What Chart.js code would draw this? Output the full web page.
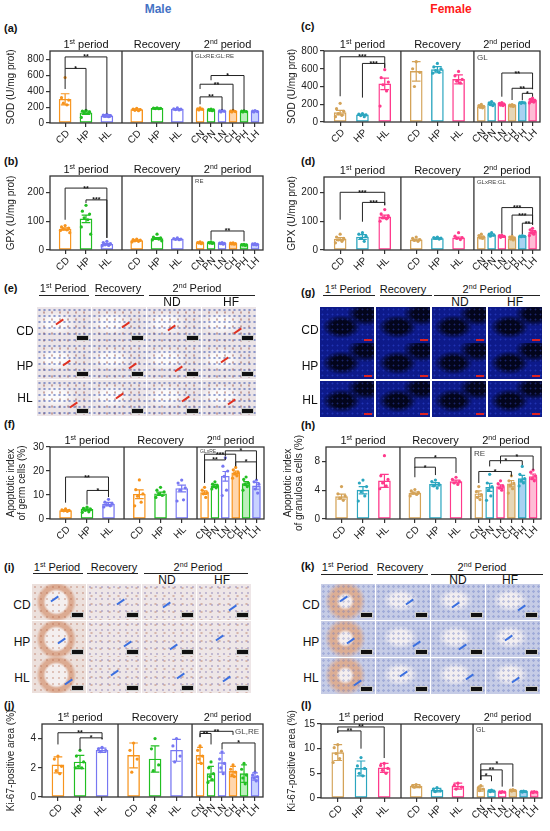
<!DOCTYPE html>
<html>
<head>
<meta charset="utf-8">
<script src="https://cdn.jsdelivr.net/npm/chart.js@4.4.1/dist/chart.umd.min.js"></script>
<style>
body{margin:0;background:#fff;width:550px;height:831px;position:relative;overflow:hidden;font-family:"Liberation Sans",Arial,sans-serif;color:#111}
canvas{position:absolute}
.lbl{position:absolute;font-weight:bold;font-size:11px}
.sex{position:absolute;font-weight:bold;font-size:12px;transform:translateX(-50%)}
.hd{position:absolute;font-size:11px;white-space:nowrap;transform:translate(-50%,-50%)}
.hd sup{font-size:7px}
.ul{position:absolute;height:0;border-top:1.3px solid #222}
.rl{position:absolute;font-size:12px;transform:translate(-50%,-50%)}
.tile{position:absolute;overflow:hidden}
.sb{position:absolute;right:2px;bottom:2px;width:11px;height:4px;background:#111;border:0.5px solid #ccc}
.ifF .sb{background:#d22;border:none;width:8px;height:2px}
.arr{position:absolute;width:9px;height:1.5px;transform:rotate(-35deg)}
.ihcM{background-color:#ebe4e7;background-image:radial-gradient(circle,rgba(60,85,175,.55) 0 0.9px,transparent 1.4px),radial-gradient(circle,rgba(150,80,70,.45) 0 0.9px,transparent 1.4px),radial-gradient(ellipse at 35% 45%,rgba(255,255,255,.85) 0 18%,transparent 42%);background-size:5px 6px,8px 7px,100% 100%;background-position:0 0,3px 2px,0 0}
.ifF{background-color:#0d1a8a;background-image:radial-gradient(circle,rgba(70,100,255,.35) 0 0.7px,transparent 1.2px),radial-gradient(ellipse at 40% 55%,#03051c 0 22%,transparent 42%),radial-gradient(ellipse at 85% 20%,#03051c 0 14%,transparent 30%);background-size:5px 5px,100% 100%,100% 100%}
.kiM{background-color:#eee6e7;background-image:radial-gradient(circle,rgba(110,100,170,.35) 0 1px,transparent 1.5px),radial-gradient(circle,rgba(170,90,60,.35) 0 0.9px,transparent 1.4px);background-size:6px 6px,9px 8px}
.kiM.ring{background-image:radial-gradient(circle,rgba(170,90,60,.3) 0 0.9px,transparent 1.4px),radial-gradient(circle at 45% 50%,#f4efef 0 30%,#dcab92 38% 48%,#ece0dc 58%);background-size:6px 6px,100% 100%}
.kiF{background-color:#c6cce6;background-image:radial-gradient(circle,rgba(90,110,190,.35) 0 1px,transparent 1.5px),radial-gradient(ellipse at 45% 45%,#f2eef0 0 22%,transparent 42%);background-size:5px 5px,100% 100%}
.kiF.ring{background-image:radial-gradient(circle,rgba(90,110,190,.3) 0 1px,transparent 1.5px),radial-gradient(circle at 45% 48%,#f4eeee 0 16%,#dcae95 26% 42%,#c6cce6 58%);background-size:5px 5px,100% 100%}
</style>
</head>
<body>
<div class="sex" style="left:158px;top:2px;color:#4472C4">Male</div>
<div class="sex" style="left:451px;top:2px;color:#ff1a1a">Female</div>
<div class="lbl" style="left:4px;top:22px">(a)</div>
<div class="lbl" style="left:301px;top:20px">(c)</div>
<div class="lbl" style="left:4px;top:155px">(b)</div>
<div class="lbl" style="left:301px;top:155px">(d)</div>
<div class="lbl" style="left:4px;top:282px">(e)</div>
<div class="lbl" style="left:301px;top:286px">(g)</div>
<div class="lbl" style="left:4px;top:418px">(f)</div>
<div class="lbl" style="left:301px;top:419px">(h)</div>
<div class="lbl" style="left:4px;top:561px">(i)</div>
<div class="lbl" style="left:301px;top:560px">(k)</div>
<div class="lbl" style="left:4px;top:699px">(j)</div>
<div class="lbl" style="left:301px;top:699px">(l)</div>
<script>
// categories and section headers
const cats = ['CD','HP','HL','CD','HP','HL','CN','PN','LN','CH','PH','LH'];
const sections = [['1','st',' period'],['Recovery'],['2','nd',' period']];

// tick labels
const sodTicks = [0,200,400,600,800];
const gpxTicks = [0,50,100,150,200,250];
const germTicks = [0,10,20,30];
const granTicks = [0,2,4,6,8,10];
const kiMaleTicks = [0,1,2,3,4,5];
const kiFemaleTicks = [0,5,10,15];

// (a) SOD male
const sodMaleMean = [300,130,90, 170,185,175, 175,165,150,150,145,150];
const sodMaleSem = [70,20,15, 10,4,8, 8,8,8,6,6,6];
const sodMalePts = [[575,320,290,250,230],[160,150,140,130,120,70],[110,100,95,85,80],
  [185,175,170,160,155],[190,188,185,182,180],[190,180,175,170,165],
  [190,180,175,165],[175,170,165,160,155],[160,155,150,140],[160,150,145,140],[155,150,145,140],[158,150,145,140]];
const sodMaleSig = [[0,1,690,430,160,'*'],[0,2,835,690,120,'**'],[6,8,330,236,165,'**'],[6,9,490,430,160,'**'],[7,10,600,540,160,'*']];

// (b) GPX male
const gpxMaleMean = [73,108,20, 33,40,38, 25,25,23,22,18,20];
const gpxMaleSem = [4,13,3, 2,3,2, 1.5,1.5,1.5,1.5,1.5,1.5];
const gpxMalePts = [[85,80,76,73,70,68,60],[155,135,125,112,105,80,55],[30,26,22,18,16,14],
  [38,36,34,32,30,28],[55,45,42,40,38,35,32],[42,40,38,37,36],
  [28,26,25,24,22],[28,26,25,24,23],[26,24,23,22,20],[25,24,22,21,20],[20,19,18,17,16],[22,21,20,19,18]];
const gpxMaleSig = [[0,2,215,105,42,'**'],[1,2,174,163,42,'***'],[7,10,66,35,30,'**']];

// (c) SOD female
const sodFemMean = [105,80,430, 570,590,480, 175,205,200,185,215,240];
const sodFemSem = [25,7,65, 110,35,50, 10,12,12,8,6,15];
const sodFemPts = [[210,150,120,95,75,60],[95,88,80,72,60],[590,500,450,420,350,180],
  [680,600,560,400],[660,620,600,580,560,550],[570,520,480,460,440],
  [200,185,175,165,160],[230,215,205,195,185],[220,210,200,190,185],[195,190,185,180,175],[225,220,215,210],[270,255,245,235,225,215]];
const sodFemSig = [[0,2,735,290,610,'***'],[1,2,660,275,610,'***'],[8,11,552,285,370,'**'],[9,11,380,248,370,'**'],[10,11,323,248,285,'*']];

// (d) GPX female
const gpxFemMean = [38,45,115, 35,40,42, 45,52,47,40,47,62];
const gpxFemSem = [5,8,6, 3,2,3, 3,4,3,3,2,5];
const gpxFemPts = [[55,45,40,35,30,25],[60,55,48,40,30],[140,125,118,112,108,100],
  [45,40,36,33,30],[45,43,41,40,38],[60,48,43,40,36],
  [55,50,45,42,40],[60,55,52,48],[52,50,47,44],[48,45,42,38,35],[50,48,47,46],[75,70,65,60,55,50]];
const gpxFemSig = [[0,2,200,105,155,'***'],[1,2,165,98,155,'***'],[8,11,147,57,88,'***'],[9,11,121,52,88,'***'],[10,11,93,55,88,'**']];

// (f) apoptotic index, germ cells
const germMean = [3.5,4.0,6.2, 10.3,10.5,12.7, 11.0,13.8,17.8,19.2,14.8,13.8];
const germSem = [0.3,0.5,0.7, 1.8,0.7,1.4, 0.7,0.6,2.0,0.8,0.8,1.4];
const germPts = [[4.2,3.8,3.6,3.4,3.2],[5.0,4.4,4.0,3.6,3.0,2.8],[8.2,7.0,6.5,6.0,5.5,5.0],
  [16.3,12.2,10.5,9.5,7.0,5.5],[13.2,12.0,11.3,10.5,9.8,9.0],[16.2,15.0,13.0,12.0,8.0,7.5],
  [13.2,12.0,11.0,10.5,9.0],[15.5,14.5,14.0,13.5,13.0,12.5],[25.5,22,20,17.8,12,9.8],[21.5,20.5,19.5,19,18,17],[17.5,16.5,15,14.5,13.5,12],[16.2,15.5,14.5,12.5,10.8]];
const germSig = [[0,2,17.5,6.8,9.2,'**'],[1,2,11.9,6.0,9.2,'*'],[6,8,24.6,15.1,26,'**'],[6,9,27,15.1,22,'***'],[8,11,28.4,26.2,16.5,'*'],[9,11,23.8,22,16.5,'*']];

// (h) apoptotic index, granulosa cells
const granMean = [3.1,4.0,5.3, 3.6,4.8,5.2, 3.5,4.4,4.5,4.9,5.6,5.9];
const granSem = [0.35,0.5,0.9, 0.15,0.25,0.2, 0.4,0.55,0.25,0.45,0.45,0.35];
const granPts = [[4.5,3.5,3.2,2.9,2.6],[5.4,5.0,4.5,3.8,3.2,2.5],[8.8,6.0,5.5,5.0,4.6,4.2],
  [4.1,3.9,3.7,3.6,3.4,3.2],[5.4,5.2,4.8,4.6,4.3],[5.8,5.5,5.2,5.0,4.8],
  [4.5,3.8,3.4,3.0,2.7],[6.2,5.0,4.5,4.0,3.2,2.6],[5.3,4.9,4.6,4.3,4.0],[6.0,5.3,5.0,4.7,4.2,3.6],[7.3,6.2,5.6,5.3,5.0,4.6],[6.8,6.5,6.0,5.6,5.3]];
const granSig = [[3,5,8.5,7.1,6.4,'*'],[3,4,7.2,5.8,6.1,'*'],[6,9,6.6,5.0,5.9,'*'],[7,10,8.1,7.3,7.5,'*'],[8,11,8.75,7.7,6.8,'*']];

// (j) Ki-67 male
const kiMaleMean = [2.2,2.4,3.2, 2.85,2.6,3.2, 2.85,1.6,2.35,1.75,1.6,1.4];
const kiMaleSd = [0.55,0.45,0.15, 0.85,0.9,0.75, 0.55,0.5,0.65,0.35,0.6,0.25];
const kiMalePts = [[2.8,2.6,2.1,1.8,1.6],[3.2,2.8,2.4,2.1,2.0,2.0],[3.4,3.3,3.2,3.1],
  [3.7,3.2,2.6,1.7],[4.0,3.3,2.2,1.8],[4.0,3.5,2.8,2.4],
  [3.5,3.2,2.8,2.6,2.3],[2.4,2.0,1.6,1.4,1.2,1.0],[3.1,2.6,2.3,2.0,1.6],[2.2,1.9,1.7,1.5,1.4],[2.3,1.9,1.5,1.3,0.9],[1.7,1.5,1.4,1.3,1.1]];
const kiMaleSig = [[0,2,4.4,3.6,3.95,'**'],[1,2,4.05,3.2,3.95,'*'],[6,7,4.35,4.1,3.6,'**'],[6,9,4.5,4.1,4.25,'**'],[8,11,3.7,3.25,1.75,'*']];

// (l) Ki-67 female
const kiFemMean = [9.2,6.0,6.1, 2.4,1.6,2.4, 1.9,1.4,1.2,1.5,1.3,1.2];
const kiFemSd = [1.6,1.5,0.9, 0.3,0.35,0.6, 0.5,0.15,0.1,0.15,0.1,0.1];
const kiFemPts = [[10.8,10.2,9.5,9.0,8.0,7.2],[8.2,6.5,6.0,5.0,4.5],[7.0,6.6,6.0,5.6,5.0],
  [2.7,2.5,2.3,2.2],[2.1,1.8,1.5,1.3],[3.0,2.6,2.2,1.8],
  [2.5,2.1,1.8,1.5],[1.6,1.5,1.4,1.3],[1.3,1.25,1.2,1.1],[1.7,1.6,1.5,1.4],[1.4,1.35,1.3,1.2],[1.3,1.25,1.2,1.1]];
const kiFemSig = [[0,1,13.6,13.2,10,'**'],[0,2,14.4,13.2,8.1,'**'],[6,7,4.5,3.65,3.4,'*'],[6,8,5.7,3.65,2.3,'**'],[6,9,6.9,3.65,2.3,'*']];

// colours
const maleEdge = ['#F7941D','#22BF22','#7777F2','#F7941D','#22BF22','#7777F2','#F7941D','#22BF22','#7777F2','#F7941D','#22BF22','#7777F2'];
const maleFill = ['#fff','#fff','#fff','#fff','#fff','#fff','#fff','#fff','#fff','#FFD6AC','#BDEFBD','#C8D2FF'];
const femEdge = ['#D4A358','#2BA6BF','#FF3A8C','#D4A358','#2BA6BF','#FF3A8C','#D4A358','#2BA6BF','#FF3A8C','#D4A358','#2BA6BF','#FF3A8C'];
const femFill = ['#fff','#fff','#fff','#fff','#fff','#fff','#fff','#fff','#fff','#E6D6B6','#A8D2F2','#FFBCD5'];

const FF = '"Liberation Sans", Arial, sans-serif';
const JIT = [0,-1,1,-0.5,0.5,-1.3,1.3];

function positions(d) {
  const b = [0, d[0], d[1], 1], out = [];
  for (let s = 0; s < 3; s++) {
    const w = b[s+1] - b[s], c = (b[s] + b[s+1]) / 2;
    if (s < 2) for (let k = 0; k < 3; k++) out.push(c + (k - 1) * 0.29 * w);
    else for (let k = 0; k < 6; k++) out.push(c + (k - 2.5) * 0.155 * w);
  }
  return out;
}

const panelPlugin = {
  id: 'panel',
  afterDatasetsDraw(chart, args, o) {
    const {ctx, chartArea: a, scales: {x, y}} = chart;
    ctx.save();
    // error bars
    o.mean.forEach((m, i) => {
      const px = x.getPixelForValue(o.pos[i]);
      const yt = y.getPixelForValue(m + o.err[i]);
      const yb = y.getPixelForValue(Math.max(0, m - o.err[i]));
      const cw = (i < 6 ? o.bw1 : o.bw3) * 0.36;
      ctx.strokeStyle = o.edge[i];
      ctx.lineWidth = 1.2;
      ctx.beginPath();
      ctx.moveTo(px, yt); ctx.lineTo(px, yb);
      ctx.moveTo(px - cw, yt); ctx.lineTo(px + cw, yt);
      ctx.moveTo(px - cw, yb); ctx.lineTo(px + cw, yb);
      ctx.stroke();
    });
    // frame and section dividers
    ctx.strokeStyle = '#333';
    ctx.lineWidth = 1.3;
    ctx.strokeRect(a.left, a.top, a.width, a.height);
    ctx.beginPath();
    o.div.forEach(f => {
      const xx = x.getPixelForValue(f);
      ctx.moveTo(xx, a.top); ctx.lineTo(xx, a.bottom);
    });
    ctx.stroke();
    // rotated category labels at the x scale's tick positions
    ctx.fillStyle = '#222';
    ctx.font = '10px ' + FF;
    ctx.textAlign = 'right';
    ctx.textBaseline = 'middle';
    o.pos.forEach((p, i) => {
      ctx.save();
      ctx.translate(x.getPixelForValue(p) + 3, a.bottom + 9);
      ctx.rotate(-Math.PI / 4);
      ctx.fillText(cats[i], 0, 0);
      ctx.restore();
    });
    // section headers
    const bnd = [0, o.div[0], o.div[1], 1];
    ctx.fillStyle = '#111';
    ctx.textBaseline = 'alphabetic';
    sections.forEach((parts, s) => {
      const cx = x.getPixelForValue((bnd[s] + bnd[s+1]) / 2);
      const fonts = parts.length === 3 ? ['11px ' + FF, '7px ' + FF, '11px ' + FF] : ['11px ' + FF];
      let tw = 0;
      const ws = parts.map((p, k) => { ctx.font = fonts[k]; const w = ctx.measureText(p).width; tw += w; return w; });
      let xx = cx - tw / 2;
      ctx.textAlign = 'left';
      parts.forEach((p, k) => {
        ctx.font = fonts[k];
        ctx.fillText(p, xx, a.top - 3 - (k === 1 ? 4 : 0));
        xx += ws[k];
      });
    });
    // significance brackets
    ctx.lineWidth = 1;
    ctx.strokeStyle = '#222';
    ctx.font = 'bold 7px ' + FF;
    ctx.textAlign = 'center';
    o.sig.forEach(([i, j, top, lb, rb, txt]) => {
      const x1 = x.getPixelForValue(o.pos[i]), x2 = x.getPixelForValue(o.pos[j]);
      const yt = y.getPixelForValue(top);
      ctx.beginPath();
      ctx.moveTo(x1, y.getPixelForValue(lb)); ctx.lineTo(x1, yt);
      ctx.lineTo(x2, yt); ctx.lineTo(x2, y.getPixelForValue(rb));
      ctx.stroke();
      ctx.fillText(txt, (x1 + x2) / 2, yt + 2.5);
    });
    // model note
    ctx.font = o.noteSize + 'px ' + FF;
    ctx.fillStyle = '#444';
    if (o.noteRight) {
      ctx.textAlign = 'right';
      ctx.fillText(o.note, a.right - 4, a.top + o.noteSize + 2);
    } else {
      ctx.textAlign = 'left';
      ctx.fillText(o.note, x.getPixelForValue(o.div[1]) + 3, a.top + o.noteSize + 1);
    }
    ctx.restore();
  }
};

function makePanel(cfg) {
  const [cx, cy, cw, ch] = cfg.box;
  const [l, t, r, b] = cfg.plot;
  const cv = document.createElement('canvas');
  cv.width = cw; cv.height = ch;
  cv.style.left = cx + 'px'; cv.style.top = cy + 'px';
  cv.style.width = cw + 'px'; cv.style.height = ch + 'px';
  document.body.appendChild(cv);
  const pw = r - l;
  const pos = positions(cfg.div);
  const bw1 = 12, bw3 = 8;
  const barSet = (from, to, bw) => ({
    type: 'bar', order: 2, grouped: false, barThickness: bw,
    data: cfg.mean.slice(from, to).map((m, k) => ({x: pos[from + k], y: m})),
    backgroundColor: cfg.fill.slice(from, to),
    borderColor: cfg.edge.slice(from, to),
    borderWidth: 1.4, borderSkipped: false
  });
  const dots = [], dotCol = [];
  cfg.pts.forEach((arr, i) => {
    const bw = i < 6 ? bw1 : bw3;
    arr.forEach((v, k) => {
      dots.push({x: pos[i] + JIT[k % JIT.length] * bw * 0.3 / pw, y: v});
      dotCol.push(cfg.edge[i]);
    });
  });
  new Chart(cv, {
    type: 'bar',
    data: {
      datasets: [
        {type: 'scatter', order: 1, data: dots, pointRadius: 1.6, pointBackgroundColor: dotCol, pointBorderColor: dotCol, pointBorderWidth: 0, showLine: false},
        barSet(0, 6, bw1),
        barSet(6, 12, bw3)
      ]
    },
    options: {
      responsive: false, animation: false, devicePixelRatio: 1,
      layout: {padding: {left: 0, top: t - cy, right: cx + cw - r, bottom: 0}},
      plugins: {
        legend: {display: false}, tooltip: {enabled: false},
        panel: {mean: cfg.mean, err: cfg.err, edge: cfg.edge, pos, div: cfg.div, sig: cfg.sig,
                note: cfg.note, noteSize: cfg.noteSize, noteRight: cfg.noteRight, bw1, bw3}
      },
      scales: {
        x: {
          type: 'linear', min: 0, max: 1, offset: false,
          afterBuildTicks: s => { s.ticks = pos.map(v => ({value: v})); },
          afterFit: s => { s.height = cy + ch - b; },
          ticks: {display: false, autoSkip: false},
          grid: {offset: false, drawOnChartArea: false, tickLength: 4, color: '#333', lineWidth: 1.2},
          border: {display: false}
        },
        y: {
          min: 0, max: cfg.max,
          afterBuildTicks: s => { s.ticks = cfg.ticks.map(v => ({value: v})); },
          afterFit: s => { s.width = l - cx; },
          ticks: {padding: 2, callback: v => String(v), font: {size: 10, family: FF}, color: '#222'},
          grid: {drawOnChartArea: false, tickLength: 4, color: '#333', lineWidth: 1.2},
          border: {display: false},
          title: {display: true, text: cfg.title, color: '#222',
                  font: {size: 10, family: FF, lineHeight: 1.1}, padding: {top: cfg.titlePad, bottom: 0}}
        }
      }
    },
    plugins: [panelPlugin]
  });
}

makePanel({box: [0, 34, 275, 120], plot: [50, 51, 263, 123], max: 910, ticks: sodTicks, div: [0.338, 0.667],
  title: 'SOD (U/mg prot)', titlePad: 6, mean: sodMaleMean, err: sodMaleSem, pts: sodMalePts, sig: sodMaleSig,
  note: 'GLxRE:GL:RE', noteSize: 6, edge: maleEdge, fill: maleFill});
makePanel({box: [0, 164, 275, 118], plot: [50, 176, 263, 250], max: 257, ticks: gpxTicks, div: [0.338, 0.667],
  title: 'GPX (U/mg prot)', titlePad: 6, mean: gpxMaleMean, err: gpxMaleSem, pts: gpxMalePts, sig: gpxMaleSig,
  note: 'RE', noteSize: 6, edge: maleEdge, fill: maleFill});
makePanel({box: [275, 34, 275, 120], plot: [324, 51, 540, 122], max: 800, ticks: sodTicks, div: [0.356, 0.694],
  title: 'SOD (U/mg prot)', titlePad: 12, mean: sodFemMean, err: sodFemSem, pts: sodFemPts, sig: sodFemSig,
  note: 'GL', noteSize: 8, edge: femEdge, fill: femFill});
makePanel({box: [275, 164, 275, 118], plot: [324, 177, 540, 250], max: 253, ticks: gpxTicks, div: [0.356, 0.694],
  title: 'GPX (U/mg prot)', titlePad: 12, mean: gpxFemMean, err: gpxFemSem, pts: gpxFemPts, sig: gpxFemSig,
  note: 'GLxRE:GL', noteSize: 6, edge: femEdge, fill: femFill});
makePanel({box: [0, 432, 275, 120], plot: [50, 447, 264, 519], max: 30, ticks: germTicks, div: [0.346, 0.687],
  title: ['Apoptotic index', 'of germ cells (%)'], titlePad: 6, mean: germMean, err: germSem, pts: germPts, sig: germSig,
  note: 'GLxRE', noteSize: 5, edge: maleEdge, fill: maleFill});
makePanel({box: [275, 432, 275, 120], plot: [326, 447, 541, 519], max: 10, ticks: granTicks, div: [0.344, 0.674],
  title: ['Apoptotic index', 'of granulosa cells (%)'], titlePad: 8, mean: granMean, err: granSem, pts: granPts, sig: granSig,
  note: 'RE', noteSize: 8, edge: femEdge, fill: femFill});
makePanel({box: [0, 708, 275, 123], plot: [42, 724, 263, 797], max: 5, ticks: kiMaleTicks, div: [0.344, 0.679],
  title: 'Ki-67-positive area (%)', titlePad: 6, mean: kiMaleMean, err: kiMaleSd, pts: kiMalePts, sig: kiMaleSig,
  note: 'GL,RE', noteSize: 8, noteRight: true, edge: maleEdge, fill: maleFill});
makePanel({box: [275, 708, 275, 123], plot: [321, 724, 542, 798], max: 15, ticks: kiFemaleTicks, div: [0.362, 0.688],
  title: 'Ki-67-positive area (%)', titlePad: 12, mean: kiFemMean, err: kiFemSd, pts: kiFemPts, sig: kiFemSig,
  note: 'GL', noteSize: 7, edge: femEdge, fill: femFill});

// micrograph panels (e), (g), (i), (k)
const micro = [
  {cols: [37, 92, 147, 202], rows: [307, 343, 380], cls: 'ihcM', arrow: '#e03020',
   heads: [[63, 288], [118, 288], [197, 288]], lines: [[39, 89], [95, 144], [149, 255]], lineY: 295, nd: [172, 231], ndY: 302,
   rowX: 25, rowY: [331, 366, 398]},
  {cols: [320, 376, 432, 488], rows: [307, 343, 381], cls: 'ifF', arrow: null,
   heads: [[348, 289], [403, 289], [487, 289]], lines: [[323, 375], [380, 432], [434, 540]], lineY: 295, nd: [460, 515], ndY: 302,
   rowX: 310, rowY: [330, 366, 400]},
  {cols: [32, 87, 142, 197], rows: [584, 621, 657], cls: 'kiM', arrow: '#3a6fe0',
   heads: [[57, 567], [114, 567], [198, 567]], lines: [[33, 83], [87, 138], [144, 248]], lineY: 573, nd: [167, 222], ndY: 580,
   rowX: 22, rowY: [605, 642, 678]},
  {cols: [321, 376, 431, 486], rows: [584, 621, 658], cls: 'kiF', arrow: '#3a6fe0',
   heads: [[345, 567], [400, 567], [482, 567]], lines: [[321, 373], [377, 428], [431, 543]], lineY: 574, nd: [458, 510], ndY: 580,
   rowX: 311, rowY: [605, 642, 678]}
];
const headTxt = ['1<sup>st</sup> Period', 'Recovery', '2<sup>nd</sup> Period'];
const rowTxt = ['CD', 'HP', 'HL'];
let html = '';
micro.forEach(p => {
  p.heads.forEach((h, k) => { html += `<div class="hd" style="left:${h[0]}px;top:${h[1]}px">${headTxt[k]}</div>`; });
  p.lines.forEach(ln => { html += `<div class="ul" style="left:${ln[0]}px;top:${p.lineY}px;width:${ln[1] - ln[0]}px"></div>`; });
  html += `<div class="rl" style="left:${p.nd[0]}px;top:${p.ndY}px">ND</div><div class="rl" style="left:${p.nd[1]}px;top:${p.ndY}px">HF</div>`;
  p.rowY.forEach((ry, k) => { html += `<div class="rl" style="left:${p.rowX}px;top:${ry}px">${rowTxt[k]}</div>`; });
  p.rows.forEach((ry, ri) => {
    p.cols.forEach((cx, ci) => {
      const ring = ci === 0 && (p.cls === 'kiM' || p.cls === 'kiF') ? ' ring' : '';
      const arr = p.arrow ? `<div class="arr" style="left:${18 + ((ri * 7 + ci * 11) % 20)}px;top:${14 + ((ri * 5 + ci * 3) % 12)}px;background:${p.arrow}"></div>` : '';
      html += `<div class="tile ${p.cls}${ring}" style="left:${cx}px;top:${ry}px;width:54px;height:36px">${arr}<div class="sb"></div></div>`;
    });
  });
});
document.body.insertAdjacentHTML('beforeend', html);
</script>
</body>
</html>
